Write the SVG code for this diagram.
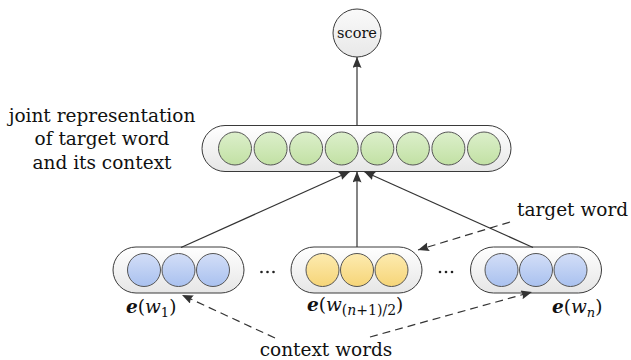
<svg xmlns="http://www.w3.org/2000/svg" width="631" height="360" viewBox="0 0 631 360">
<defs>
<linearGradient id="gPill" x1="0" y1="0" x2="0" y2="1"><stop offset="0" stop-color="#ffffff"/><stop offset="1" stop-color="#e6e6e6"/></linearGradient>
<linearGradient id="gScore" x1="0" y1="0" x2="0" y2="1"><stop offset="0" stop-color="#fafafa"/><stop offset="1" stop-color="#e8e8e8"/></linearGradient>
<linearGradient id="gGreen" x1="0" y1="0" x2="0" y2="1"><stop offset="0" stop-color="#dcefcb"/><stop offset="1" stop-color="#c2e1a4"/></linearGradient>
<linearGradient id="gBlue" x1="0" y1="0" x2="0" y2="1"><stop offset="0" stop-color="#d3def7"/><stop offset="1" stop-color="#a9c1ef"/></linearGradient>
<linearGradient id="gYellow" x1="0" y1="0" x2="0" y2="1"><stop offset="0" stop-color="#fdebb0"/><stop offset="1" stop-color="#f6d578"/></linearGradient>
<marker id="arr" markerUnits="userSpaceOnUse" markerWidth="12" markerHeight="10" refX="11" refY="4.5" orient="auto">
<path d="M0,0 L11,4.5 L0,9 Q2.5,4.5 0,0 Z" fill="#333"/>
</marker>
</defs>
<style>
.pill{fill:url(#gPill);stroke:#3a3a3a;stroke-width:1}
.g{fill:url(#gGreen);stroke:#555;stroke-width:1}
.b{fill:url(#gBlue);stroke:#555;stroke-width:1}
.y{fill:url(#gYellow);stroke:#555;stroke-width:1}
.t{font-family:"DejaVu Serif",serif;font-size:18.5px;fill:#111}
.conn{stroke:#333;stroke-width:1.2;fill:none;marker-end:url(#arr)}
.dash{stroke-dasharray:8 5}
.dot{fill:#222}
</style>

<g id="score">
<circle cx="357" cy="33" r="24" fill="url(#gScore)" stroke="#3a3a3a" stroke-width="1"/>
<text class="t" x="357" y="38" text-anchor="middle" style="font-size:14.5px">score</text>
</g>

<g id="joint">
<rect class="pill" x="202" y="125.5" width="309" height="46" rx="23"/>
<circle class="g" cx="235" cy="148.5" r="16.5"/>
<circle class="g" cx="270.6" cy="148.5" r="16.5"/>
<circle class="g" cx="306.1" cy="148.5" r="16.5"/>
<circle class="g" cx="341.7" cy="148.5" r="16.5"/>
<circle class="g" cx="377.3" cy="148.5" r="16.5"/>
<circle class="g" cx="412.9" cy="148.5" r="16.5"/>
<circle class="g" cx="448.4" cy="148.5" r="16.5"/>
<circle class="g" cx="484" cy="148.5" r="16.5"/>
</g>

<g id="w1">
<rect class="pill" x="113" y="247" width="131" height="46" rx="23"/>
<circle class="b" cx="144" cy="270" r="16.5"/>
<circle class="b" cx="178.5" cy="270" r="16.5"/>
<circle class="b" cx="213" cy="270" r="16.5"/>
</g>

<g id="wmid">
<rect class="pill" x="291" y="247" width="131" height="46" rx="23"/>
<circle class="y" cx="322.5" cy="270" r="16.5"/>
<circle class="y" cx="357" cy="270" r="16.5"/>
<circle class="y" cx="391.5" cy="270" r="16.5"/>
</g>

<g id="wn">
<rect class="pill" x="470.5" y="247" width="131" height="46" rx="23"/>
<circle class="b" cx="501.5" cy="270" r="16.5"/>
<circle class="b" cx="536" cy="270" r="16.5"/>
<circle class="b" cx="570.5" cy="270" r="16.5"/>
</g>

<g id="dots">
<circle class="dot" cx="261.5" cy="272" r="1.3"/><circle class="dot" cx="267.5" cy="272" r="1.3"/><circle class="dot" cx="273.5" cy="272" r="1.3"/>
<circle class="dot" cx="440" cy="272" r="1.3"/><circle class="dot" cx="446" cy="272" r="1.3"/><circle class="dot" cx="452" cy="272" r="1.3"/>
</g>

<g id="connectors">
<line class="conn" x1="357" y1="125.5" x2="357" y2="57"/>
<line class="conn" x1="181" y1="247.5" x2="350" y2="171.5"/>
<line class="conn" x1="357" y1="247" x2="357" y2="171.5"/>
<line class="conn" x1="533" y1="247.5" x2="364" y2="171.5"/>
<line class="conn dash" x1="510" y1="222" x2="418" y2="250"/>
<line class="conn dash" x1="275" y1="338" x2="182" y2="295"/>
<line class="conn dash" x1="370" y1="337" x2="532" y2="292"/>
</g>

<g id="labels">
<text class="t" text-anchor="middle"><tspan x="102" y="121.5">joint representation</tspan><tspan x="102" y="145">of target word</tspan><tspan x="102" y="168.5">and its context</tspan></text>
<text class="t" x="517" y="216">target word</text>
<text class="t" x="326" y="356" text-anchor="middle">context words</text>
<text class="t" x="126" y="313"><tspan font-weight="bold" font-style="italic">e</tspan>(<tspan font-style="italic">w</tspan><tspan font-size="13" dy="3.5">1</tspan><tspan dy="-3.5">)</tspan></text>
<text class="t" x="307" y="311"><tspan font-weight="bold" font-style="italic">e</tspan>(<tspan font-style="italic">w</tspan><tspan font-size="14" dy="4">(<tspan font-style="italic">n</tspan>+1)/2</tspan><tspan dy="-4">)</tspan></text>
<text class="t" x="552" y="313"><tspan font-weight="bold" font-style="italic">e</tspan>(<tspan font-style="italic">w</tspan><tspan font-size="13" font-style="italic" dy="3.5">n</tspan><tspan dy="-3.5">)</tspan></text>
</g>
</svg>
